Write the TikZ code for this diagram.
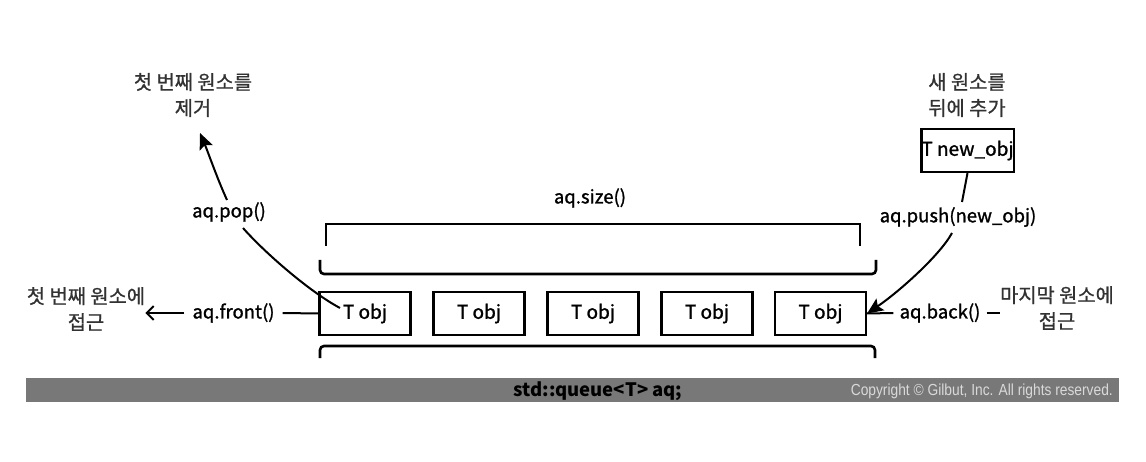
\documentclass[tikz,border=0pt]{standalone}
\usepackage{fontspec}
\setmainfont{Noto Sans CJK KR}
\newfontfamily\copyfont{Liberation Sans}
\usetikzlibrary{arrows.meta}
\definecolor{barcol}{RGB}{120,120,120}
\definecolor{txtk}{RGB}{50,50,50}
\begin{document}
\begin{tikzpicture}[x=1pt,y=-1pt,
  lbl/.style={font=\fontsize{18.5}{24}\selectfont\addfontfeature{FakeBold=1.3}, inner sep=0pt},
  desc/.style={font=\fontsize{19.8}{26}\selectfont\addfontfeature{FakeBold=0.8}, align=center, text=txtk, inner sep=0pt},
  objbox/.style={draw, line width=2.2pt, minimum width=91pt, minimum height=43pt, inner sep=0pt, font=\fontsize{19}{22}\selectfont\addfontfeature{FakeBold=1.3}},
  conn/.style={line width=2pt},
  headtip/.style={-{Stealth[length=16pt,width=14pt,inset=3pt]}},
  sizebrk/.style={line width=1.7pt},
  brk/.style={line width=2.6pt, rounded corners=4pt},
]
\useasboundingbox (0,0) rectangle (1146,462);
% bottom bar
\fill[barcol] (26,378) rectangle (1119,402);
\node[font=\bfseries\fontsize{18.5}{20}\selectfont, inner sep=0pt] (decl) at (598,391) {std::queue<T> aq;};
\node[anchor=east, text=white!85!black, inner sep=0pt, font=\copyfont\fontsize{16}{18}\selectfont] (copy) at (1113,391) {\resizebox{262pt}{\height}{Copyright © Gilbut, Inc. All rights reserved.}};
% boxes
\foreach \i/\x in {1/365,2/479,3/593,4/707,5/820.5}
  \node[objbox] (b\i) at (\x,313.5) {T obj};
% brackets
\draw[sizebrk] (326,246) -- (326,224) -- (860,224) -- (860,246);
\draw[brk] (320,260) -- (320,274) -- (876,274) -- (876,260);
\draw[brk] (320,358) -- (320,346) -- (875,346) -- (875,358);
\node[lbl] (size) at (590,198) {aq.size()};
% pop
\node[desc] (popdesc) at (193,95) {첫 번째 원소를\\제거};
\node[lbl] (pop) at (229,212) {aq.pop()};
\coordinate (popup) at (227,200);
\coordinate (poptip) at (200,133);
\coordinate (popdown) at (243,228);
\coordinate (popend) at (340,308);
\draw[conn, headtip] (popup) .. controls (217,178) and (208,152) .. (poptip);
\draw[conn] (popdown) .. controls (265,253) and (310,292) .. (popend);
% front
\node[desc] (frontdesc) at (86,309) {첫 번째 원소에\\접근};
\node[lbl, inner xsep=8pt] (front) at (233.5,313) {aq.front()};
\draw[conn, -{Straight Barb[length=7pt,width=14pt]}] (front.west) -- (front.west -| frontdesc.east);
\draw[conn] (front.east) -- (b1.west);
% push
\node[desc] (pushdesc) at (967,95) {새 원소를\\뒤에 추가};
\node[objbox] (newobj) at (967.5,150.5) {T new\_obj};
\node[lbl] (push) at (958,217) {aq.push(new\_obj)};
\coordinate (pushup) at (962,202);
\coordinate (pushdown) at (952,233);
\draw[conn] (newobj.south) -- (pushup);
\draw[conn, headtip] (pushdown) .. controls (940,255) and (900,291) .. (b5.east);
% back
\node[desc] (backdesc) at (1057,308) {마지막 원소에\\접근};
\node[lbl, inner xsep=6pt] (back) at (940,313) {aq.back()};
\draw[conn] (back.west) -- (b5.east);
\draw[conn] (back.east) -- (back.east -| backdesc.west);
\end{tikzpicture}
\end{document}
